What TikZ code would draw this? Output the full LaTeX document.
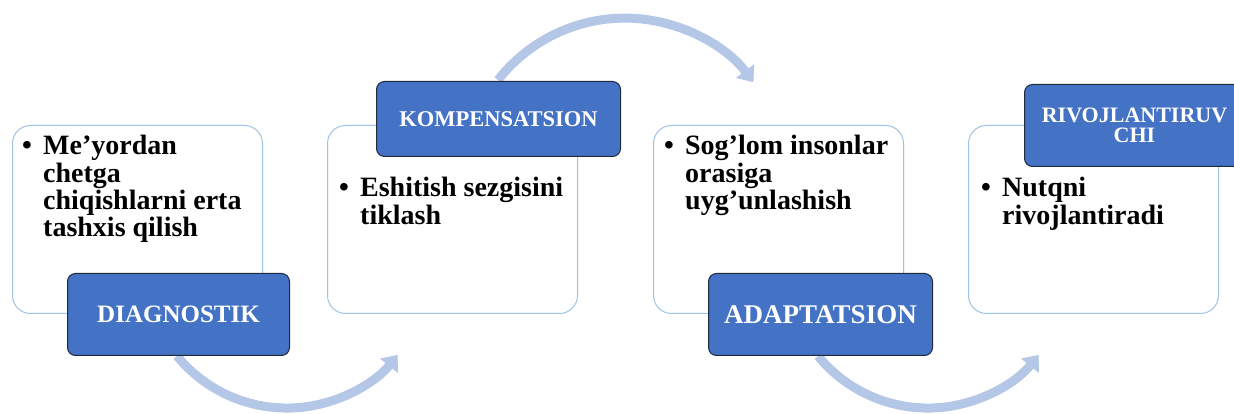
\documentclass[tikz,border=0pt]{standalone}
\usepackage{fontspec}
\setmainfont{Liberation Serif}
\usetikzlibrary{arrows.meta}
\definecolor{arrowblue}{HTML}{B4C7E7}
\definecolor{boxline}{HTML}{9DC3E6}
\definecolor{labelfill}{HTML}{4472C4}
\definecolor{labelline}{HTML}{1F2A3C}
\begin{document}
\begin{tikzpicture}[x=1pt,y=1pt,
  card/.style={draw=boxline, line width=1pt, fill=white, rounded corners=18pt, inner sep=0pt, anchor=south west, minimum width=250pt, minimum height=188pt},
  tag/.style={draw=labelline, line width=1pt, fill=labelfill, rounded corners=8pt, inner sep=0pt, anchor=south west, text=white, align=center},
  flow/.style={draw=arrowblue, line width=9pt, -{Triangle[width=22pt,length=14pt]}},
  bullettext/.style={anchor=base west, inner sep=0pt, font=\fontsize{28}{25.5}\selectfont\bfseries}
]
\clip (0,0) rectangle (1234,414);
% arrows
\coordinate (a1s) at (177,58);
\coordinate (a2s) at (498,334);
\coordinate (a3s) at (818,58);
\draw[flow] (a1s) arc[start angle=219.3, end angle=321.3, radius=142];
\draw[flow] (a2s) arc[start angle=142, end angle=37, radius=161];
\draw[flow] (a3s) arc[start angle=219.3, end angle=321.3, radius=142];
% cards
\node[card] (w1) at (12,100) {};
\node[card] (w2) at (327,100) {};
\node[card] (w3) at (653,100) {};
\node[card] (w4) at (968,100) {};
% tags
\node[tag, minimum width=222pt, minimum height=82pt, font=\fontsize{25}{25}\selectfont\bfseries] (d) at (67,58) {DIAGNOSTIK};
\node[tag, minimum width=244pt, minimum height=75pt, font=\fontsize{22.5}{22.5}\selectfont\bfseries] (k) at (376,257) {KOMPENSATSION};
\node[tag, minimum width=224pt, minimum height=82pt, font=\fontsize{27}{27}\selectfont\bfseries] (a) at (708,58) {ADAPTATSION};
\node[tag, minimum width=220pt, minimum height=82pt, font=\fontsize{22}{20}\selectfont\bfseries] (r) at (1024,247) {RIVOJLANTIRUV\\CHI};
% bullet texts
\node[bullettext] (t1) at (22,259) {\begin{tabular}[t]{@{}l@{}l@{}}\makebox[21pt][l]{•}&Me’yordan\\&chetga\\&chiqishlarni erta\\&tashxis qilish\end{tabular}};
\node[bullettext] (t2) at (339,217) {\begin{tabular}[t]{@{}l@{}l@{}}\makebox[21pt][l]{•}&Eshitish sezgisini\\&tiklash\end{tabular}};
\node[bullettext] (t3) at (664,259) {\begin{tabular}[t]{@{}l@{}l@{}}\makebox[21pt][l]{•}&Sog’lom insonlar\\&orasiga\\&uyg’unlashish\end{tabular}};
\node[bullettext] (t4) at (981,217) {\begin{tabular}[t]{@{}l@{}l@{}}\makebox[21pt][l]{•}&Nutqni\\&rivojlantiradi\end{tabular}};
\end{tikzpicture}
\end{document}
